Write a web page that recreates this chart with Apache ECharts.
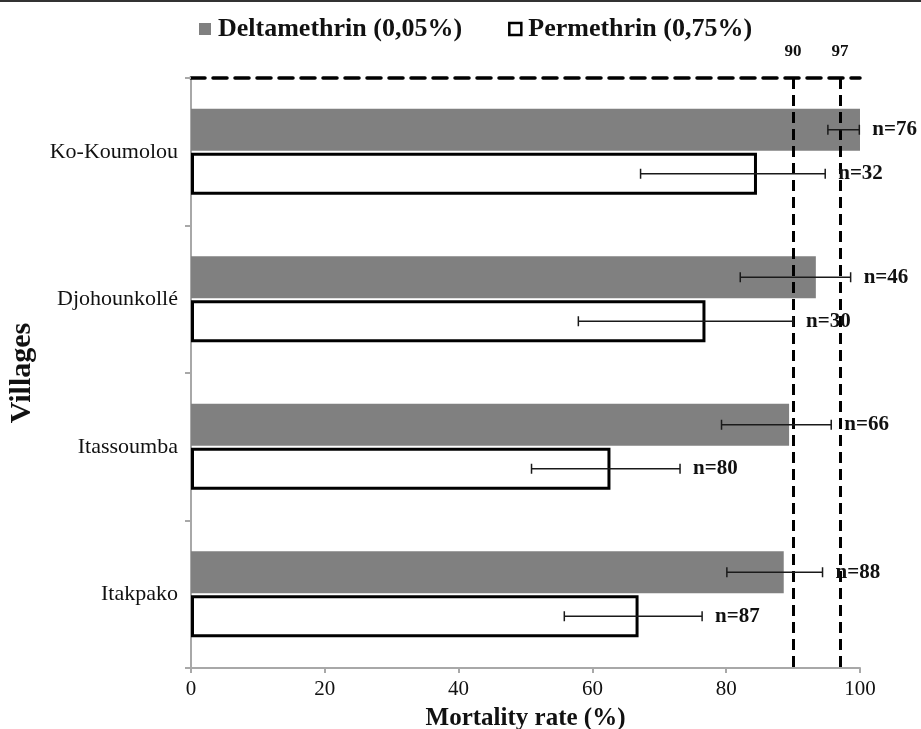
<!DOCTYPE html>
<html>
<head>
<meta charset="utf-8">
<script src="https://cdn.jsdelivr.net/npm/echarts@6/dist/echarts.min.js"></script>
<style>
html,body{margin:0;padding:0;background:#fff;}
#chart{width:921px;height:729px;}
</style>
</head>
<body>
<div id="chart"></div>
<script>
// ---- data ----
const villages = ['Ko-Koumolou', 'Djohounkollé', 'Itassoumba', 'Itakpako'];
const deltaMortality = [100, 93.4, 89.4, 88.6];
const deltaLow = [95.2, 82.1, 79.3, 80.1];
const deltaHigh = [99.9, 98.6, 95.7, 94.4];
const deltaN = [76, 46, 66, 88];
const permMortality = [84.6, 76.9, 62.7, 66.9];
const permLow = [67.2, 57.9, 50.9, 55.8];
const permHigh = [94.8, 90.0, 73.1, 76.4];
const permN = [32, 30, 80, 87];
const thresholds = [90, 97];
const seriesNames = ['Deltamethrin (0,05%)', 'Permethrin (0,75%)'];

const FONT = "'Liberation Serif', 'Times New Roman', serif";
const BAR_W = 42;
const BAR_GAP = 2;

function errData(low, high, n) {
  return villages.map((v, i) => [i, low[i], high[i], n[i]]);
}

function makeErrRender(offset) {
  return function (params, api) {
    const cat = api.value(0);
    const lo = api.coord([api.value(1), cat]);
    const hi = api.coord([api.value(2), cat]);
    const y = lo[1] + offset;
    const cap = 5;
    const st = { stroke: '#1a1a1a', lineWidth: 1.5 };
    return {
      type: 'group',
      children: [
        { type: 'line', shape: { x1: lo[0], y1: y, x2: hi[0], y2: y }, style: st },
        { type: 'line', shape: { x1: lo[0], y1: y - cap, x2: lo[0], y2: y + cap }, style: st },
        { type: 'line', shape: { x1: hi[0], y1: y - cap, x2: hi[0], y2: y + cap }, style: st },
        { type: 'text', style: { x: hi[0] + 13, y: y, text: 'n=' + api.value(3),
            font: 'bold 21px ' + FONT, fill: '#111', verticalAlign: 'middle', align: 'left' } }
      ]
    };
  };
}

const chart = echarts.init(document.getElementById('chart'));
chart.setOption({
  animation: false,
  backgroundColor: '#fff',
  graphic: [{ type: 'rect', shape: { x: 0, y: 0, width: 921, height: 2 }, style: { fill: '#333' } }],
  legend: {
    left: 194, top: 11,
    itemWidth: 12, itemHeight: 12, itemGap: 46,
    textStyle: { fontFamily: FONT, fontWeight: 'bold', fontSize: 26, color: '#111', padding: [0, 0, 0, 2] },
    data: [
      { name: seriesNames[0], icon: 'rect' },
      { name: seriesNames[1], icon: 'rect', itemStyle: { color: '#fff', borderColor: '#000', borderWidth: 2.5 } }
    ]
  },
  grid: { left: 191, right: 61, top: 78, bottom: 61, containLabel: false, outerBoundsMode: 'none' },
  xAxis: [{
    type: 'value', min: 0, max: 100, interval: 20,
    name: 'Mortality rate (%)', nameLocation: 'middle', nameGap: 38,
    nameTextStyle: { fontFamily: FONT, fontWeight: 'bold', fontSize: 25, color: '#111' },
    axisLine: { show: true, lineStyle: { color: '#a8a8a8', width: 2 } },
    axisTick: { show: true, length: 5, lineStyle: { color: '#a8a8a8', width: 2 } },
    axisLabel: { fontFamily: FONT, fontSize: 21, color: '#111', margin: 11 },
    splitLine: { show: false }
  }, {
    type: 'value', min: 0, max: 100, position: 'top',
    axisLine: { show: true, lineStyle: { color: '#000', width: 3.5, type: [14, 8] } },
    axisTick: { show: false }, axisLabel: { show: false }, splitLine: { show: false }
  }],
  yAxis: {
    type: 'category', data: villages, inverse: true,
    name: 'Villages', nameLocation: 'middle', nameGap: 154, nameRotate: 90,
    nameTextStyle: { fontFamily: FONT, fontWeight: 'bold', fontSize: 30, color: '#111' },
    axisLine: { show: true, lineStyle: { color: '#a8a8a8', width: 2 } },
    axisTick: { show: true, length: 6, lineStyle: { color: '#a8a8a8', width: 2 } },
    axisLabel: { fontFamily: FONT, fontSize: 22, color: '#111', margin: 13 }
  },
  series: [
    {
      name: seriesNames[0], type: 'bar', data: deltaMortality,
      barWidth: BAR_W, barGap: '5%',
      itemStyle: { color: '#808080' },
      z: 2,
      markLine: {
        silent: true, symbol: 'none',
        lineStyle: { color: '#000', width: 3, type: [11, 6] },
        label: { show: true, position: 'start', distance: 18, formatter: '{c}',
          fontFamily: FONT, fontWeight: 'bold', fontSize: 17, color: '#111' },
        data: thresholds.map(t => ({ xAxis: t }))
      }
    },
    {
      name: seriesNames[1], type: 'bar', data: permMortality,
      barWidth: BAR_W, barGap: '5%',
      itemStyle: { color: '#fff', borderColor: '#000', borderWidth: 3 },
      z: 2
    },
    {
      type: 'custom', renderItem: makeErrRender(-(BAR_W + BAR_GAP) / 2),
      data: errData(deltaLow, deltaHigh, deltaN),
      encode: { x: [1, 2], y: 0 }, z: 5, silent: true
    },
    {
      type: 'custom', renderItem: makeErrRender((BAR_W + BAR_GAP) / 2),
      data: errData(permLow, permHigh, permN),
      encode: { x: [1, 2], y: 0 }, z: 5, silent: true
    }
  ]
});
</script>
</body>
</html>
